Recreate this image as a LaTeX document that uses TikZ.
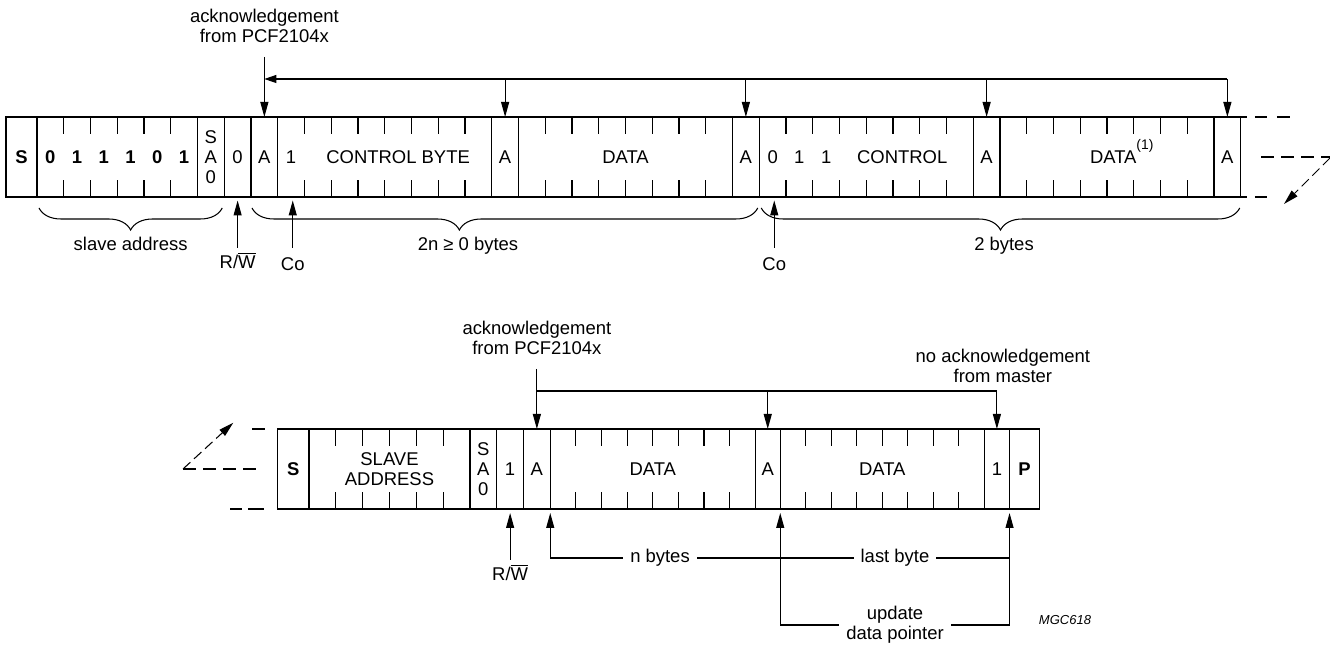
\documentclass[tikz,border=0pt]{standalone}
\usepackage{fontspec}
\setmainfont{Liberation Sans}
\usetikzlibrary{arrows.meta,positioning,calc,decorations.pathreplacing}

% short marks between the bits of a field
\newcommand{\bitmarks}[2]{%
  \pgfmathtruncatemacro{\nlast}{#2-1}%
  \foreach \i in {1,...,\nlast}{%
    \draw[bitmark] ($(#1.north west)!\i/#2!(#1.north east)$) -- ++(0,-0.34);
    \draw[bitmark] ($(#1.south west)!\i/#2!(#1.south east)$) -- ++(0,0.34);}}

\begin{document}
\begin{tikzpicture}[
  font=\fontsize{10.5}{11.5}\selectfont,
  field/.style={draw, line width=0.8pt, minimum height=1.6cm, minimum width=0.535cm,
    inner sep=0pt, outer sep=0pt, align=center},
  byte/.style={field, minimum width=4.28cm},
  bitmark/.style={line width=0.7pt},
  lbl/.style={inner sep=2pt, align=center},
  ack/.style={align=center, inner xsep=2pt, inner ysep=8pt},
  arr/.style={-{Triangle[length=0.3cm,width=0.16cm]}, line width=0.6pt},
  dbl/.style={{Triangle[length=0.3cm,width=0.16cm]}-{Triangle[length=0.3cm,width=0.16cm]}, line width=0.6pt},
  gap/.style={fill=white, inner xsep=4pt, inner ysep=1pt, align=center},
  brc/.style={decorate, decoration={brace, mirror, amplitude=0.44cm}, line width=0.6pt},
  dsh/.style={line width=0.6pt, dash pattern=on 0.26cm off 0.14cm},
  node distance=0pt]
\useasboundingbox (0,0) rectangle (26.6,12.9);

% write: control bytes and data
\node[field, minimum width=0.62cm, anchor=west] (s1) at (0.12,9.76) {\bfseries S};
\node[field, minimum width=3.21cm, right=of s1] (sa1) {};
\node[field, right=of sa1] (sb1) {S\\A\\0};
\node[field, right=of sb1] (rw1) {0};
\node[field, right=of rw1] (a1) {A};
\node[byte, right=of a1] (cb1) {};
\node[field, right=of cb1] (a2) {A};
\node[byte, right=of a2] (d1) {DATA};
\node[field, right=of d1] (a3) {A};
\node[byte, right=of a3] (cb2) {};
\node[field, right=of cb2] (a4) {A};
\node[byte, right=of a4] (d2) {\hspace{0.25cm}DATA\rlap{\smash{\raisebox{8pt}{\fontsize{7.9}{8}\selectfont(1)}}}};
\node[field, right=of d2] (a5) {A};
\bitmarks{sa1}{6} \bitmarks{cb1}{8} \bitmarks{d1}{8} \bitmarks{cb2}{8} \bitmarks{d2}{8}

\foreach \v [count=\i] in {0,1,1,1,0,1}
  \node (sab\i) at ($(sa1.west)+(\i*0.535-0.2675,0)$) {\bfseries\v};
\node (cbb) at ($(cb1.west)+(0.2675,0)$) {1};
\node (cbt) at ($(cb1.west)+(2.4075,0)$) {CONTROL BYTE};
\foreach \v [count=\i] in {0,1,1}
  \node (cc\i) at ($(cb2.west)+(\i*0.535-0.2675,0)$) {\v};
\node (cct) at ($(cb2.west)+(2.86,0)$) {CONTROL};

\node[ack, above=1.2cm of a1] (ack1) {acknowledgement\\from PCF2104x};
\coordinate (bus1) at (0,11.32);
\draw[arr] (ack1) -- (a1);
\draw[arr, -{Triangle[length=0.24cm,width=0.16cm]}] (a5.north |- bus1) -- (a1.north |- bus1);
\foreach \n in {a2,a3,a4,a5}
  \draw[arr] (\n.north |- bus1) -- (\n.north);

\draw[brc] ($(sa1.south west)+(0.04,-0.22)$) -- ($(sb1.south east)+(-0.04,-0.22)$);
\draw[brc, decoration={aspect=0.41}] ($(a1.south west)+(0.02,-0.22)$) -- ($(a3.south east)+(-0.03,-0.22)$);
\draw[brc] ($(a3.south east)+(0.04,-0.22)$) -- ($(a5.south east)+(-0.02,-0.22)$);
\node[lbl, anchor=base] (sal) at ($(sa1.south west)!.5!(sb1.south east)+(0,-1.08)$) {slave address};
\node[lbl, anchor=base] (nl) at ($(a1.south west)+(4.34,-1.08)$) {2n ≥ 0 bytes};
\node[lbl, anchor=base] (twol) at ($(a3.south east)+(4.895,-1.08)$) {2 bytes};

\node[lbl, below=1.02cm of rw1] (rwl1) {R/$\overline{\mbox{W}}$};
\draw[arr, shorten >=0.07cm] (rwl1) -- (rw1);
\node[lbl, anchor=north, inner ysep=5.5pt] (co1) at ($(cb1.south west)+(0.3,-1.02)$) {Co};
\node[lbl, anchor=north, inner ysep=5.5pt] (co2) at ($(cb2.south west)+(0.3,-1.02)$) {Co};
\draw[arr, shorten >=0.07cm] (co1) -- (co1 |- cb1.south);
\draw[arr, shorten >=0.07cm] (co2) -- (co2 |- cb2.south);

% continued below
\draw[line width=0.8pt, dash pattern=on 0.12cm off 0.16cm on 0.24cm off 0.2cm on 0.26cm off 1cm]
  (a5.north east) -- ++(0.98,0);
\draw[line width=0.8pt, dash pattern=on 0.12cm off 0.16cm on 0.24cm off 0.2cm on 0.26cm off 1cm]
  (a5.south east) -- ++(0.54,0);
\draw[dsh] ($(a5.east)+(0.405,0)$) -- ++(1.38,0);
\draw[arr, dash pattern=on 0.2cm off 0.1cm] (26.6,9.74) -- (25.68,8.82);

% read: data bytes
\node[field, minimum width=0.626cm, anchor=west] (s2) at (5.554,3.52) {\bfseries S};
\node[field, minimum width=3.22cm, right=of s2] (sa2) {SLAVE\\ADDRESS};
\node[field, right=of sa2] (sb2) {S\\A\\0};
\node[field, right=of sb2] (rw2) {1};
\node[field, right=of rw2] (a6) {A};
\node[byte, minimum width=4.1cm, right=of a6] (d3) {DATA};
\node[field, minimum width=0.5cm, right=of d3] (a7) {A};
\node[byte, minimum width=4.08cm, right=of a7] (d4) {DATA};
\node[field, minimum width=0.506cm, right=of d4] (n1) {1};
\node[field, minimum width=0.6cm, right=of n1] (p1) {\bfseries P};
\bitmarks{sa2}{6} \bitmarks{d3}{8} \bitmarks{d4}{8}

\draw[line width=0.8pt, dash pattern=on 0.26cm off 1cm] ($(s2.north west)+(-0.514,0)$) -- ++(0.26,0);
\draw[dsh] (3.66,3.52) -- (5.14,3.52);
\draw[line width=0.8pt, dash pattern=on 0.24cm off 0.12cm on 0.32cm off 1cm]
  ($(s2.south west)+(-0.954,0)$) -- ++(0.68,0);
\draw[arr, dash pattern=on 0.2cm off 0.1cm] (3.66,3.52) -- (4.666,4.446);

\node[ack, above=1.2cm of a6] (ack2) {acknowledgement\\from PCF2104x};
\coordinate (bus2) at (0,5.08);
\draw[arr] (ack2) -- (a6);
\draw[arr] (a6.north |- bus2) -| (n1.north);
\draw[arr] (a7.north |- bus2) -- (a7.north);
\node[lbl, above=0.84cm of n1, xshift=0.12cm] (nack) {no acknowledgement\\from master};

\node[lbl, below=1.02cm of rw2] (rwl2) {R/$\overline{\mbox{W}}$};
\draw[arr, shorten >=0.08cm] (rwl2) -- (rw2);

\coordinate (nbus) at (0,1.74);
\coordinate (ubus) at (0,0.4);
\draw[dbl, shorten <=0.08cm, shorten >=0.08cm]
  (d3.south west) -- (d3.south west |- nbus) -- (p1.south west |- nbus) -- (p1.south west);
\draw[arr, shorten >=0.08cm]
  (p1.south west |- nbus) -- (p1.south west |- ubus) -- (d4.south west |- ubus) -- (d4.south west);
\node[gap] (nby) at (13.2,1.74) {n bytes};
\node[gap] (lby) at (17.9,1.74) {last byte};
\node[gap] (upd) at (17.9,0.4) {update\\data pointer};

\node[font=\fontsize{7.4}{9}\selectfont\itshape] (fig) at (21.3,0.49) {MGC618};
\end{tikzpicture}
\end{document}
